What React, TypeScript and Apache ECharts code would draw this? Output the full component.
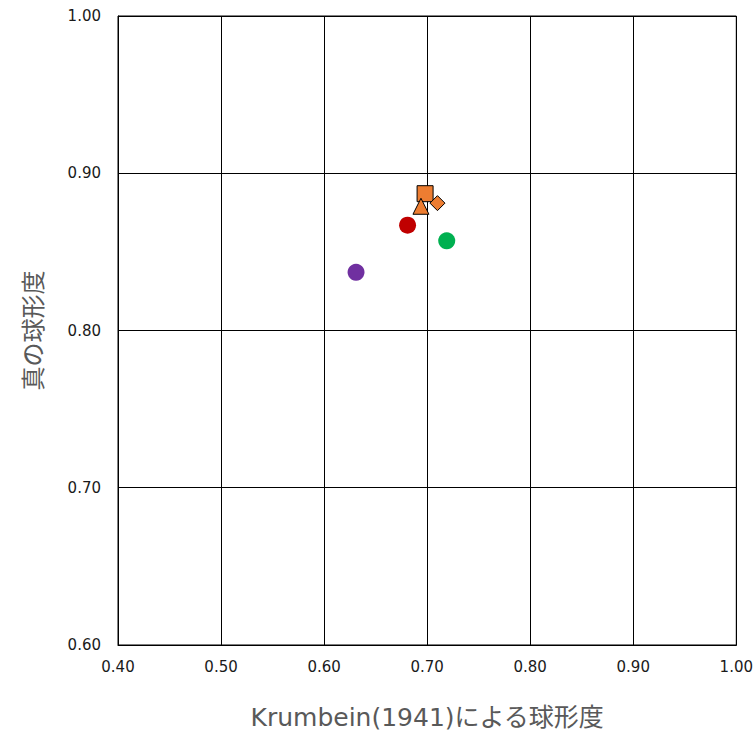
import React, { useEffect, useRef } from "react";
import * as echarts from "echarts";

const xTicks = [0.4, 0.5, 0.6, 0.7, 0.8, 0.9, 1.0];
const yTicks = [0.6, 0.7, 0.8, 0.9, 1.0];

const purplePoint = [0.631, 0.837];
const redPoint = [0.681, 0.867];
const greenPoint = [0.719, 0.857];
const squarePoint = [0.698, 0.887];
const trianglePoint = [0.694, 0.879];
const diamondPoint = [0.71, 0.881];

const xName = "Krumbein(1941)による球形度";
const yName = "真の球形度";

export default function App() {
  const ref = useRef<HTMLDivElement>(null);
  useEffect(() => {
    if (!ref.current) return;
    const chart = echarts.init(ref.current, undefined, { renderer: "svg" });
    const font = "'DejaVu Sans', 'Noto Sans CJK JP', sans-serif";
    const orange = "#ED7D31";
    const fmt = (v: number) => v.toFixed(2);
    chart.setOption({
      animation: false,
      textStyle: { fontFamily: font },
      grid: { left: 118, right: 19, top: 16, bottom: 90, show: true, borderColor: "#000", borderWidth: 1 },
      xAxis: {
        type: "value",
        min: xTicks[0],
        max: xTicks[xTicks.length - 1],
        interval: 0.1,
        name: xName,
        nameLocation: "middle",
        nameGap: 60,
        nameTextStyle: { fontSize: 25, color: "#595959", fontFamily: font },
        axisLine: { lineStyle: { color: "#000", width: 1 } },
        axisTick: { show: false },
        splitLine: { show: true, lineStyle: { color: "#000", width: 1 } },
        axisLabel: { color: "#1a1a1a", fontSize: 15, margin: 14, fontFamily: font, formatter: fmt },
      },
      yAxis: {
        type: "value",
        min: yTicks[0],
        max: yTicks[yTicks.length - 1],
        interval: 0.1,
        name: yName,
        nameLocation: "middle",
        nameGap: 72,
        nameRotate: 90,
        nameTextStyle: { fontSize: 24, color: "#595959", fontFamily: font },
        axisLine: { show: true, lineStyle: { color: "#000", width: 1 } },
        axisTick: { show: false },
        splitLine: { show: true, lineStyle: { color: "#000", width: 1 } },
        axisLabel: { color: "#1a1a1a", fontSize: 15, margin: 17, fontFamily: font, formatter: fmt },
      },
      series: [
        { type: "scatter", data: [purplePoint], symbol: "circle", symbolSize: 17, itemStyle: { color: "#7030A0", opacity: 1 } },
        { type: "scatter", data: [redPoint], symbol: "circle", symbolSize: 17, itemStyle: { color: "#C00000", opacity: 1 } },
        { type: "scatter", data: [greenPoint], symbol: "circle", symbolSize: 17, itemStyle: { color: "#00B050", opacity: 1 } },
        { type: "scatter", data: [squarePoint], symbol: "rect", symbolSize: 16, itemStyle: { color: orange, borderColor: "#000", borderWidth: 1, opacity: 1 } },
        { type: "scatter", data: [trianglePoint], symbol: "triangle", symbolSize: 16, itemStyle: { color: orange, borderColor: "#000", borderWidth: 1, opacity: 1 } },
        { type: "scatter", data: [diamondPoint], symbol: "diamond", symbolSize: [15, 15], itemStyle: { color: orange, borderColor: "#000", borderWidth: 1, opacity: 1 } },
      ],
    });
    return () => chart.dispose();
  }, []);
  return <div ref={ref} style={{ position: "absolute", left: 0, top: 0, width: 756, height: 735 }} />;
}
